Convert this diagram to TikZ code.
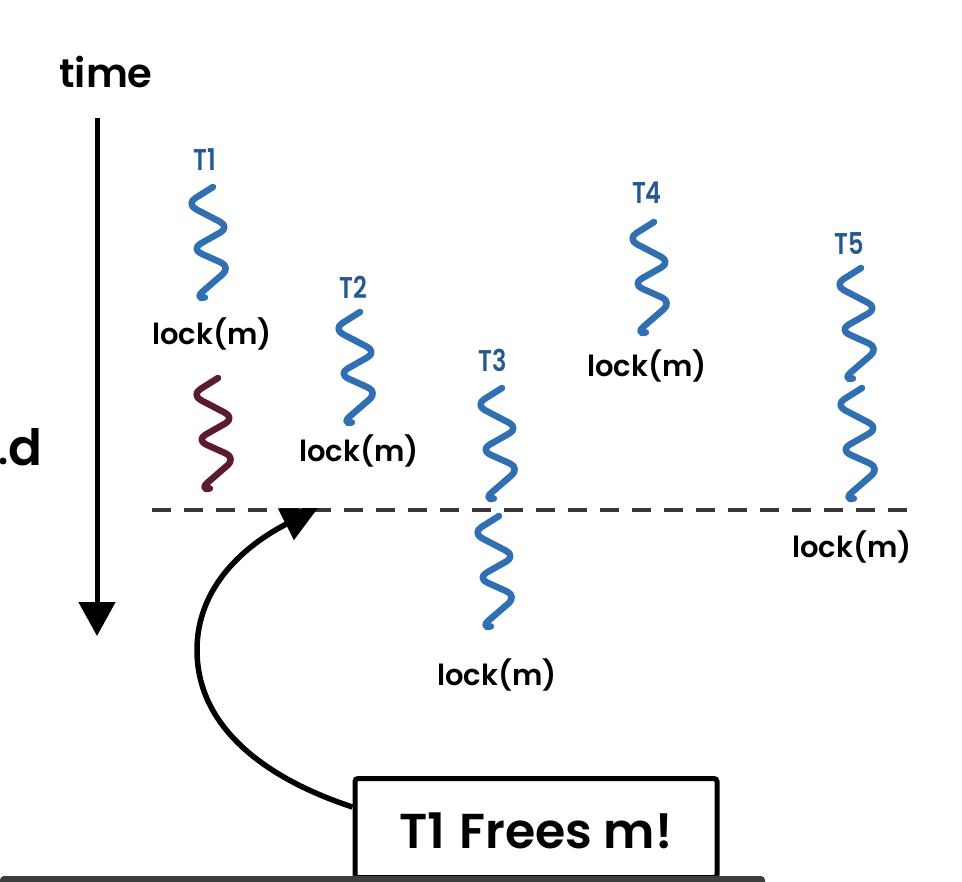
\documentclass[tikz,border=0pt]{standalone}
\usepackage{fontspec}
\setmainfont{Poppins}[BoldFont={Poppins SemiBold}]
\newcommand\medfont{\bfseries}
\usetikzlibrary{arrows.meta,calc}
\definecolor{thblue}{RGB}{47,111,178}
\definecolor{tlabel}{RGB}{40,88,145}
\definecolor{maroon}{RGB}{92,26,48}
\definecolor{dashgray}{RGB}{55,55,55}
\definecolor{barg}{RGB}{62,62,62}
\tikzset{
  squigline/.style={line width=6.5pt, line cap=round, line join=round, rounded corners=11pt},
  squig/.pic={\draw[squigline,pic actions] (0,0) -- (-27,17) -- (17,40) -- (-22,62) -- (18,80) -- (-19,112) -- (-12,111);},
  tlab/.style={text=tlabel, font=\fontsize{30}{30}\selectfont\medfont, anchor=base, xscale=0.8, inner sep=0pt},
  locklab/.style={text=black, font=\fontsize{29}{29}\selectfont\medfont, anchor=base, inner sep=0pt},
}
\begin{document}
\begin{tikzpicture}[x=1pt,y=-1pt]
\useasboundingbox (0,0) rectangle (962,882);
\fill[white] (0,0) rectangle (962,882);
% time axis
\node[font=\fontsize{40}{40}\selectfont\medfont, anchor=base, inner sep=0pt] (time) at (106,88) {time};
\coordinate (ttop) at (97,118);
\coordinate (tbot) at (97,636);
\draw[line width=5pt, -{Triangle[length=34pt,width=36pt]}] (ttop) -- (tbot);
% left fragment
\node[font=\fontsize{50}{50}\selectfont\medfont, anchor=base west, inner sep=0pt] (frag) at (8,466) {d};
\fill (3,461) circle (3.5pt);
% dashed line
\coordinate (dl) at (152,510);
\coordinate (dr) at (915,510);
\draw[dashgray, line width=4.5pt, dash pattern=on 19pt off 13pt] (dl) -- (dr);
% threads
\node[tlab] (t1) at (205,171) {T1};
\pic[thblue] at (213,187) {squig};
\node[locklab] (l1) at (212,345) {lock(m)};
\pic[maroon] at (218,378) {squig};

\node[tlab] (t2) at (353,299) {T2};
\pic[thblue] at (360,312) {squig};
\node[locklab] (l2) at (359,462) {lock(m)};

\node[tlab] (t3) at (493,372) {T3};
\pic[thblue] at (502,388) {squig};
\pic[thblue] at (499,516) {squig};
\node[locklab] (l3) at (497,685) {lock(m)};

\node[tlab] (t4) at (647,204) {T4};
\pic[thblue] at (654,222) {squig};
\node[locklab] (l4) at (647,377) {lock(m)};

\node[tlab] (t5) at (849,255) {T5};
\pic[thblue] at (861,268) {squig};
\pic[thblue] at (862,388) {squig};
\node[locklab] (l5) at (852,558) {lock(m)};
% box
\node[draw, line width=5pt, rounded corners=3pt, minimum width=362pt, minimum height=99pt, inner sep=0pt] (box) at (536,828) {};
\node[font=\fontsize{49}{49}\selectfont\medfont, anchor=base, inner sep=0pt] (boxtxt) at (536,848) {T1\hspace{14pt}Frees m!};
\coordinate (tip) at (318,508);
\draw[line width=5.5pt, -{Triangle[length=36pt,width=34pt]}] ($(box.west)+(0,-21)$) .. controls (270,780) and (197,730) .. (197,650) .. controls (197,580) and (255,540) .. (tip);
% bottom bar
\fill[barg, rounded corners=4pt] (0,876) rectangle (765,890);
\end{tikzpicture}
\end{document}
